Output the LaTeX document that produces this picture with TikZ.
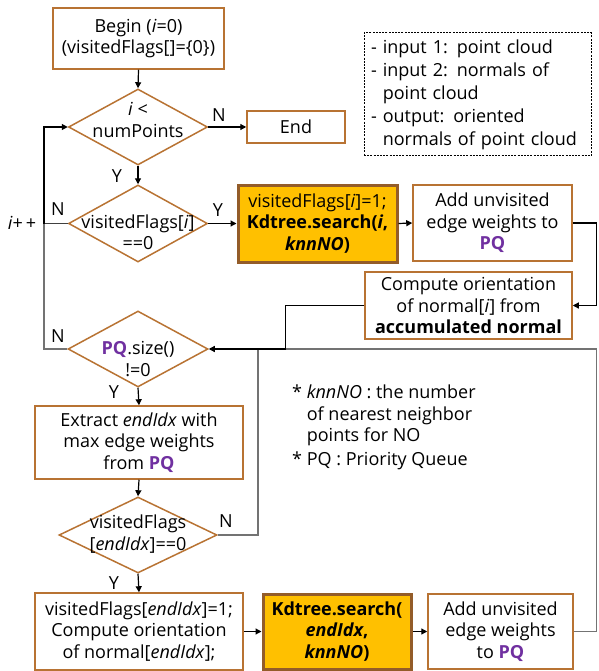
\documentclass[tikz,border=0pt]{standalone}
\usepackage{fontspec}
\setmainfont{Open Sans}
\usetikzlibrary{shapes.geometric}
\usetikzlibrary{arrows.meta}
\usetikzlibrary{positioning}
\definecolor{boxline}{RGB}{184,115,51}
\definecolor{gold}{RGB}{255,192,0}
\definecolor{pqpurple}{RGB}{112,48,160}
\newcommand{\PQ}{\textcolor{pqpurple}{\textbf{PQ}}}

\begin{document}
\begin{tikzpicture}[x=1pt,y=-1pt,
  every node/.style={font=\fontsize{18}{21.5}\selectfont,align=center},
  procbox/.style={rectangle,draw=boxline,line width=1.5pt,inner sep=0pt},
  searchbox/.style={rectangle,draw=boxline!80!black,fill=gold,line width=3pt,inner sep=0pt},
  decision/.style={diamond,draw=boxline,line width=1.5pt,inner sep=0pt},
  flow/.style={-{Triangle[length=6pt,width=6pt]},line width=1.2pt},
  back/.style={line width=1.2pt,draw=black!55},
  yn/.style={inner sep=0pt}]
  \useasboundingbox (0,0) rectangle (598,671);

  % main column
  \node[procbox,minimum width=171pt,minimum height=61pt] (begin) at (138.5,38.5) {Begin (\textit{i}=0)\\(visitedFlags[]=\{0\})};
  \node[decision,minimum width=139pt,minimum height=76pt] (iloop) at (138,127) {};
  \node (iloop-txt) at (138,120) {\textit{i} <\\numPoints};
  \node[procbox,minimum width=98pt,minimum height=32pt] (end) at (296,127) {End};
  \node[decision,minimum width=139pt,minimum height=77pt] (flagchk) at (138,223.5) {};
  \node (flagchk-txt) at (138,232) {visitedFlags[\textit{i}]\\==0};
  \node[decision,minimum width=140pt,minimum height=76pt] (pqsize) at (138,349) {};
  \node (pqsize-txt) at (138,359) {\PQ.size()\\!=0};
  \node[procbox,minimum width=208pt,minimum height=73pt] (extract) at (139,442.5) {Extract \textit{endIdx} with\\max edge weights\\from \PQ};
  \node[decision,minimum width=158pt,minimum height=76pt] (visit) at (138,535) {};
  \node (visit-txt) at (138,534) {visitedFlags\\{[}\textit{endIdx}]==0};

  % search rows
  \node[searchbox,minimum width=159pt,minimum height=77pt] (search1) at (317.5,223.5) {visitedFlags[\textit{i}]=1;\\\textbf{Kdtree.search(\textit{i},}\\\textbf{\textit{knnNO})}};
  \node[procbox,minimum width=159pt,minimum height=76pt] (addpq1) at (492.5,223) {Add unvisited\\edge weights to\\\PQ};
  \node[procbox,minimum width=207pt,minimum height=67pt] (orient) at (468.5,305.5) {Compute orientation\\of normal[\textit{i}] from\\\textbf{accumulated normal}};
  \node[procbox,minimum width=208pt,minimum height=77pt] (setflag) at (139,631.5) {visitedFlags[\textit{endIdx}]=1;\\Compute orientation\\of normal[\textit{endIdx}];};
  \node[searchbox,minimum width=148pt,minimum height=75pt] (search2) at (337,631.5) {\textbf{Kdtree.search(}\\\textbf{\textit{endIdx},}\\\textbf{\textit{knnNO})}};
  \node[procbox,minimum width=145pt,minimum height=75pt] (addpq2) at (500.5,631.5) {Add unvisited\\edge weights\\to \PQ};

  % notes
  \node[draw,line width=1pt,dash pattern=on 2pt off 1.2pt,minimum width=227pt,minimum height=123pt,
        align=left,text width=213pt,font=\fontsize{18}{23}\selectfont] (notes) at (477.5,94.5)
    {- input 1: point cloud\\- input 2: normals of\\\phantom{- }point cloud\\- output: oriented\\\phantom{- }normals of point cloud};
  \node[anchor=north west,align=left,inner sep=0pt] (legend) at (292,385)
    {* \textit{knnNO} : the number\\\phantom{* }of nearest neighbor\\\phantom{* }points for NO\\[2pt]* PQ : Priority Queue};

  % labels
  \node[yn] (iloop-n) at (219,115) {N};
  \node[yn] (iloop-y) at (117,176) {Y};
  \node[yn] (flagchk-n) at (58,209) {N};
  \node[yn] (flagchk-y) at (218,210) {Y};
  \node[yn] (pqsize-n) at (58,336) {N};
  \node[yn] (pqsize-y) at (114,392) {Y};
  \node[yn] (visit-n) at (226,521) {N};
  \node[yn] (visit-y) at (114,583) {Y};
  \node[yn] (inc) at (22,223) {\textit{i}+\,+};

  % connectors
  \coordinate (loopj) at (44,223.5);
  \coordinate (merge) at (258,349);
  \draw[flow] (begin.south) -- (iloop.north);
  \draw[flow] (iloop.east) -- (end.west);
  \draw[flow] (iloop.south) -- (flagchk.north);
  \draw[flow] (flagchk.east) -- (search1.west);
  \draw[flow] (search1.east) -- (addpq1.west);
  \draw[flow] (addpq1.east) -- ++(24,0) |- (orient.east);
  \draw[back] (addpq2.east) -- ++(23,0) |- (merge);
  \draw[back] (visit.east) -| (merge);
  \draw[flow] (orient.west) -- ++(-79,0) |- (pqsize.east);
  \draw[line width=1.2pt,black!75] (flagchk.west) -- (loopj);
  \draw[back] (pqsize.west) -| (loopj);
  \draw[flow] (loopj) |- (iloop.west);
  \draw[flow] (pqsize.south) -- (extract.north);
  \draw[flow] (extract.south) -- (visit.north);
  \draw[flow] (visit.south) -- (setflag.north);
  \draw[flow] (setflag.east) -- (search2.west);
  \draw[flow] (search2.east) -- (addpq2.west);
\end{tikzpicture}
\end{document}
